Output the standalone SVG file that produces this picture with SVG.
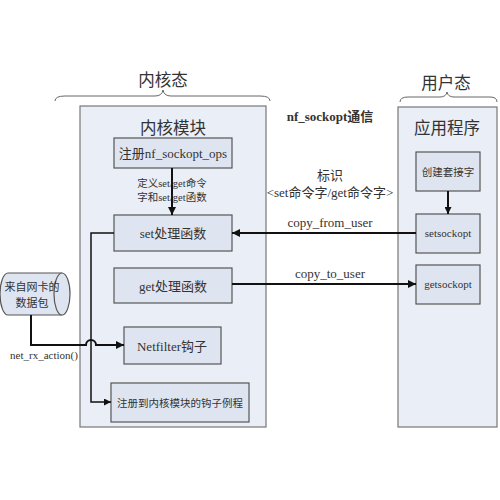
<svg xmlns="http://www.w3.org/2000/svg" width="500" height="500" viewBox="0 0 500 500">
<defs>
<marker id="ah" viewBox="0 0 10 10" refX="10" refY="5" markerWidth="10" markerHeight="8" markerUnits="userSpaceOnUse" orient="auto">
<path d="M0,0 L10,5 L0,10 z" fill="#111"/>
</marker>
<marker id="ahs" viewBox="0 0 10 10" refX="10" refY="5" markerWidth="8" markerHeight="7" markerUnits="userSpaceOnUse" orient="auto">
<path d="M0,0 L10,5 L0,10 z" fill="#111"/>
</marker>
</defs>
<style>
text{font-family:"Liberation Serif","Noto Sans CJK SC",serif;fill:#333;text-anchor:middle}
.panel{fill:#e9eef7;stroke:#777;stroke-width:1.2}
.box{fill:#dfe5f0;stroke:#555;stroke-width:1.2}
.brace{fill:none;stroke:#666;stroke-width:1}
.line{fill:none;stroke:#111;stroke-width:2}
.thin{fill:none;stroke:#111;stroke-width:1.5}
.t16{font-size:16.5px}
.t13{font-size:13px}
.t12{font-size:12px}
.t11{font-size:11px}
.t10{font-size:10.5px}
</style>
<rect width="500" height="500" fill="#fff"/>

<g id="kernel-state">
<path class="brace" d="M55,101 Q55,96 65,96 L155,96 Q162,96 163,90 Q164,96 171,96 L260,96 Q270,96 270,101"/>
<text class="t16" x="163" y="86">内核态</text>
</g>
<g id="user-state">
<path class="brace" d="M400,102 Q400,97 408,97 L440,97 Q446,97 447,92 Q448,97 454,97 L490,97 Q497,97 497,102"/>
<text class="t16" x="446" y="89">用户态</text>
</g>

<g id="kernel-module">
<rect class="panel" x="80" y="106" width="186" height="321"/>
<text class="t16" x="173" y="134">内核模块</text>
</g>
<g id="app">
<rect class="panel" x="398" y="107" width="99" height="320"/>
<text class="t16" x="447" y="134">应用程序</text>
</g>

<g id="reg-ops">
<rect class="box" x="114" y="138" width="118" height="30"/>
<text class="t13" x="173" y="158">注册nf_sockopt_ops</text>
</g>
<g id="set-fn">
<rect class="box" x="114" y="215" width="118" height="36"/>
<text class="t13" x="173" y="238">set处理函数</text>
</g>
<g id="get-fn">
<rect class="box" x="114" y="268" width="118" height="35"/>
<text class="t13" x="173" y="291">get处理函数</text>
</g>
<g id="netfilter">
<rect class="box" x="124" y="327" width="97" height="37"/>
<text class="t13" x="172" y="351">Netfilter钩子</text>
</g>
<g id="hook-routine">
<rect class="box" x="111" y="383" width="138" height="39"/>
<text class="t10" x="180" y="407">注册到内核模块的钩子例程</text>
</g>
<g id="create-socket">
<rect class="box" x="416" y="152" width="64" height="39"/>
<text class="t10" x="448" y="176">创建套接字</text>
</g>
<g id="setsockopt">
<rect class="box" x="416" y="214" width="64" height="39"/>
<text class="t11" x="448" y="237">setsockopt</text>
</g>
<g id="getsockopt">
<rect class="box" x="416" y="265" width="64" height="39"/>
<text class="t11" x="448" y="288">getsockopt</text>
</g>
<g id="nic-packet">
<path class="box" d="M8,273 L62,273 A8,21 0 0 1 62,315 L8,315 A8,21 0 0 1 8,273 z"/>
<path class="box" d="M62,273 A8,21 0 0 0 62,315"/>
<text class="t11" x="32" y="291">来自网卡的</text>
<text class="t11" x="32" y="307">数据包</text>
</g>

<g id="connectors">
<line class="line" x1="172" y1="168" x2="172" y2="215" marker-end="url(#ah)"/>
<line class="line" x1="448" y1="191" x2="448" y2="214" marker-end="url(#ahs)"/>
<line class="line" x1="416" y1="233" x2="232" y2="233" marker-end="url(#ah)"/>
<line class="line" x1="232" y1="284" x2="416" y2="284" marker-end="url(#ah)"/>
<path class="thin" d="M114,233 L91,233 L91,402 L111,402" marker-end="url(#ahs)"/>
<path class="line" d="M31,315 L31,345 L86,345 A5,5 0 0 1 96,345 L124,345" marker-end="url(#ah)"/>
</g>

<g id="labels">
<text class="t10" x="172" y="187">定义set/get命令</text>
<text class="t10" x="172" y="201">字和set/get函数</text>
<text class="t13" x="330" y="121" style="font-weight:bold">nf_sockopt通信</text>
<text class="t13" x="330" y="180">标识</text>
<text class="t13" x="330" y="197">&lt;set命令字/get命令字&gt;</text>
<text class="t13" x="330" y="227">copy_from_user</text>
<text class="t13" x="330" y="278">copy_to_user</text>
<text class="t11" x="44" y="359">net_rx_action()</text>
</g>
</svg>
